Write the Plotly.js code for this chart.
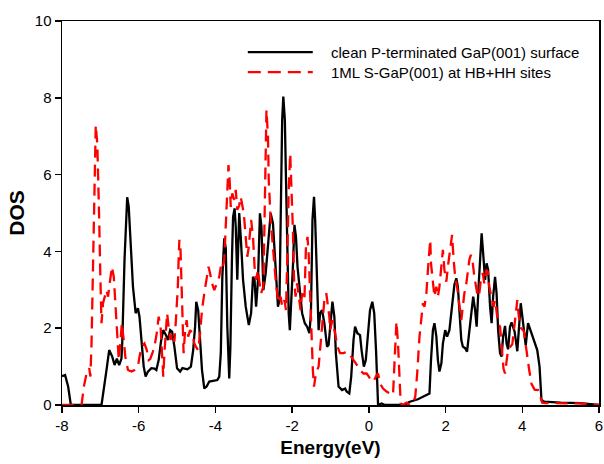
<!DOCTYPE html>
<html>
<head>
<meta charset="utf-8">
<script src="https://cdn.plot.ly/plotly-3.0.1.min.js"></script>
<style>html,body{margin:0;padding:0;background:#fff;}#chart{width:604px;height:464px;}</style>
</head>
<body>
<div id="chart"></div>
<script>
// Series names
const seriesNames = ["clean P-terminated GaP(001) surface", "1ML S-GaP(001) at HB+HH sites"];

// Clean P-terminated GaP(001) surface
const cleanEnergy = [-8.00,-7.92,-7.84,-7.77,-7.50,-7.20,-6.97,-6.84,-6.77,-6.69,-6.63,-6.57,-6.51,-6.45,-6.43,-6.37,-6.30,-6.26,-6.21,-6.15,-6.08,-6.02,-5.98,-5.93,-5.87,-5.82,-5.76,-5.67,-5.59,-5.54,-5.48,-5.42,-5.36,-5.29,-5.24,-5.18,-5.13,-5.07,-5.00,-4.92,-4.86,-4.73,-4.64,-4.58,-4.53,-4.50,-4.45,-4.40,-4.35,-4.29,-4.23,-4.16,-4.03,-3.95,-3.90,-3.86,-3.82,-3.77,-3.73,-3.69,-3.64,-3.61,-3.57,-3.54,-3.50,-3.47,-3.43,-3.38,-3.34,-3.28,-3.21,-3.13,-3.07,-3.02,-2.98,-2.94,-2.89,-2.84,-2.80,-2.75,-2.69,-2.63,-2.56,-2.50,-2.43,-2.37,-2.33,-2.29,-2.26,-2.23,-2.19,-2.16,-2.12,-2.09,-2.06,-2.03,-1.98,-1.94,-1.90,-1.86,-1.80,-1.74,-1.67,-1.61,-1.55,-1.51,-1.47,-1.43,-1.40,-1.35,-1.31,-1.27,-1.22,-1.16,-1.09,-1.05,-1.01,-0.95,-0.90,-0.86,-0.79,-0.70,-0.62,-0.58,-0.51,-0.46,-0.40,-0.36,-0.30,-0.23,-0.19,-0.13,-0.08,-0.03,0.03,0.09,0.14,0.19,0.22,0.24,0.33,0.42,0.95,1.05,1.28,1.58,1.62,1.67,1.71,1.76,1.80,1.84,1.89,1.93,1.99,2.04,2.10,2.16,2.23,2.28,2.32,2.36,2.41,2.45,2.51,2.56,2.62,2.68,2.72,2.77,2.81,2.86,2.91,2.94,2.98,3.03,3.07,3.11,3.16,3.20,3.24,3.29,3.33,3.37,3.42,3.46,3.50,3.55,3.59,3.63,3.68,3.72,3.80,3.87,3.96,4.04,4.09,4.15,4.26,4.39,4.45,4.50,4.57,5.00,5.50,5.95,6.00];
const cleanDOS = [0.75,0.78,0.48,0.00,0.00,0.00,0.00,0.91,1.43,1.26,1.04,1.21,1.04,1.21,1.60,3.78,5.41,5.16,4.21,3.08,2.39,2.52,2.30,1.60,1.00,0.74,0.87,0.96,0.95,0.91,1.17,1.65,1.95,1.82,1.69,1.95,1.91,1.52,0.96,0.87,0.96,0.93,1.00,1.43,2.04,2.69,2.47,1.69,0.91,0.43,0.48,0.61,0.63,0.65,0.74,1.35,3.34,4.34,4.08,2.04,0.69,1.52,3.78,4.90,5.12,4.64,3.26,5.00,4.38,3.26,2.56,2.08,2.39,3.34,3.26,2.56,3.26,4.99,4.64,2.99,3.43,4.12,4.99,4.73,3.60,2.56,2.73,5.42,7.42,8.03,7.42,5.86,3.69,2.39,1.95,2.47,3.60,4.69,4.38,3.60,2.91,2.39,2.13,2.04,1.87,2.39,4.82,5.42,4.82,3.26,1.95,2.39,2.47,2.13,1.52,1.56,2.10,2.69,2.30,1.35,0.48,0.39,0.43,0.35,0.30,0.74,1.69,2.04,1.87,1.82,1.43,1.00,1.17,1.78,2.47,2.69,2.39,1.35,0.48,0.00,0.04,0.00,0.00,0.08,0.15,0.30,1.17,1.95,2.13,1.78,1.17,0.87,1.08,1.60,1.95,1.78,1.95,2.47,3.13,3.30,3.08,2.47,1.69,1.52,1.48,1.39,1.95,2.56,2.82,2.47,2.04,3.08,4.04,4.47,3.95,3.26,3.69,3.52,2.56,2.13,2.82,3.34,2.91,1.95,1.35,1.26,1.78,2.06,1.60,1.45,2.04,2.15,1.91,1.40,2.65,2.00,1.55,2.13,1.80,1.43,1.00,0.13,0.09,0.06,0.05,0.02,0.00];

// 1ML S-GaP(001) at HB+HH sites
const sulfurEnergy = [-8.00,-7.49,-7.43,-7.36,-7.29,-7.26,-7.23,-7.20,-7.17,-7.14,-7.12,-7.08,-7.06,-7.03,-7.00,-6.97,-6.93,-6.88,-6.84,-6.80,-6.76,-6.70,-6.65,-6.60,-6.57,-6.52,-6.48,-6.44,-6.39,-6.35,-6.28,-6.19,-6.11,-6.02,-5.98,-5.92,-5.85,-5.79,-5.74,-5.70,-5.63,-5.59,-5.53,-5.48,-5.43,-5.39,-5.36,-5.33,-5.29,-5.26,-5.22,-5.17,-5.13,-5.07,-5.03,-4.98,-4.96,-4.94,-4.91,-4.88,-4.85,-4.83,-4.79,-4.75,-4.71,-4.66,-4.60,-4.55,-4.51,-4.45,-4.40,-4.35,-4.29,-4.23,-4.18,-4.14,-4.09,-4.03,-3.97,-3.90,-3.86,-3.82,-3.77,-3.73,-3.69,-3.66,-3.63,-3.60,-3.56,-3.51,-3.47,-3.43,-3.38,-3.34,-3.30,-3.26,-3.21,-3.17,-3.13,-3.07,-3.02,-2.98,-2.94,-2.89,-2.85,-2.81,-2.75,-2.72,-2.69,-2.67,-2.63,-2.61,-2.56,-2.52,-2.48,-2.43,-2.39,-2.35,-2.30,-2.26,-2.20,-2.16,-2.12,-2.09,-2.05,-2.02,-1.98,-1.95,-1.91,-1.87,-1.83,-1.78,-1.74,-1.68,-1.64,-1.60,-1.57,-1.53,-1.50,-1.46,-1.43,-1.38,-1.31,-1.27,-1.21,-1.16,-1.11,-1.07,-1.03,-1.01,-0.95,-0.88,-0.82,-0.75,-0.66,-0.58,-0.52,-0.46,-0.38,-0.31,-0.23,-0.14,-0.06,0.00,0.07,0.14,0.20,0.24,0.29,0.37,0.46,0.55,0.63,0.68,0.72,0.76,0.79,0.83,0.89,0.98,1.07,1.15,1.21,1.26,1.32,1.37,1.41,1.45,1.50,1.54,1.57,1.60,1.62,1.67,1.71,1.76,1.80,1.84,1.89,1.93,1.97,2.02,2.06,2.10,2.15,2.17,2.21,2.25,2.30,2.36,2.41,2.45,2.49,2.53,2.58,2.62,2.66,2.71,2.75,2.80,2.84,2.88,2.93,2.97,3.01,3.06,3.10,3.14,3.19,3.25,3.29,3.33,3.37,3.42,3.46,3.51,3.55,3.59,3.63,3.74,3.82,3.87,3.91,3.97,4.04,4.10,4.18,4.24,4.32,4.41,4.47,4.52,4.60,5.00,5.50,6.00];
const sulfurDOS = [0.00,0.00,0.48,0.82,0.96,0.74,1.60,3.34,5.51,6.64,7.29,6.81,5.51,4.82,3.34,2.13,2.65,2.82,2.99,2.82,3.17,3.60,3.34,2.47,1.78,1.17,1.60,2.13,1.69,1.26,0.91,0.87,0.91,1.00,1.26,1.52,1.60,1.43,1.17,1.20,1.39,1.52,1.87,2.30,2.04,1.17,0.74,1.35,2.04,2.39,2.04,1.69,1.87,1.65,2.21,3.08,3.78,4.30,4.04,3.08,2.30,1.35,1.95,2.21,1.78,1.95,1.87,1.60,1.52,1.43,1.87,2.47,2.91,3.26,3.60,3.43,3.17,2.99,3.13,3.34,3.60,3.52,3.78,4.64,5.69,6.25,5.86,5.16,5.51,5.34,5.60,5.08,5.20,5.42,5.20,4.99,4.38,3.86,4.12,4.82,4.38,3.60,3.26,3.52,3.17,2.91,3.08,4.99,6.73,7.68,6.99,5.86,4.82,4.30,3.78,3.26,2.91,2.65,2.82,2.56,2.73,2.47,4.12,5.60,6.55,5.86,4.56,3.26,2.82,3.17,2.91,2.47,2.91,2.73,4.12,4.38,3.95,2.91,1.69,0.91,0.48,0.82,1.00,1.52,2.21,2.73,2.91,2.56,2.30,1.95,2.21,1.87,1.52,1.35,1.35,1.39,1.35,1.26,1.15,1.04,0.91,0.82,0.82,0.74,0.61,0.65,0.78,0.82,0.56,0.43,0.35,0.30,0.26,1.35,2.17,1.60,0.74,0.04,0.00,0.06,0.00,0.03,0.22,0.82,1.78,2.30,2.65,2.56,2.91,3.52,4.04,4.30,3.69,3.08,2.82,3.08,2.82,3.08,3.69,4.04,3.52,3.21,3.60,3.95,4.30,4.43,3.78,3.34,3.08,2.56,2.21,2.56,2.91,3.08,3.43,3.78,3.91,3.69,3.34,2.99,2.82,2.91,3.34,3.43,3.17,3.52,3.47,3.08,2.82,2.56,2.73,2.39,2.13,2.04,1.60,0.95,0.82,1.10,1.45,1.58,2.40,2.73,2.30,2.00,1.93,1.43,0.91,0.55,0.40,0.39,0.22,0.06,0.05,0.04,0.04,0.00];

// Axis tick labels
const xTicks = [-8, -6, -4, -2, 0, 2, 4, 6];
const yTicks = [0, 2, 4, 6, 8, 10];

const FONT = "Liberation Sans, Arial, sans-serif";

const traces = [
  {x: cleanEnergy, y: cleanDOS, name: seriesNames[0], type: "scatter", mode: "lines",
   line: {color: "#000000", width: 2.3}, showlegend: false},
  {x: sulfurEnergy, y: sulfurDOS, name: seriesNames[1], type: "scatter", mode: "lines",
   line: {color: "#ff0000", width: 2.3, dash: "12px,7px"}, showlegend: false}
];

// legend drawn in paper coordinates
const legY = [0.919, 0.867];
const shapes = [
  {type: "line", xref: "paper", yref: "paper", x0: 0.346, x1: 0.467, y0: legY[0], y1: legY[0],
   line: {color: "#000000", width: 2.3}},
  {type: "line", xref: "paper", yref: "paper", x0: 0.346, x1: 0.467, y0: legY[1], y1: legY[1],
   line: {color: "#ff0000", width: 2.3, dash: "13px,7px"}}
];
const annotations = seriesNames.map((t, i) => ({
  text: t, xref: "paper", yref: "paper", x: 0.497, y: legY[i], xanchor: "left", yanchor: "middle",
  showarrow: false, font: {family: FONT, size: 15, color: "#000"}
}));

const layout = {
  width: 604, height: 464,
  margin: {l: 62, r: 5, t: 21, b: 59},
  paper_bgcolor: "#ffffff", plot_bgcolor: "#ffffff",
  showlegend: false,
  xaxis: {
    range: [-8, 6], tickvals: xTicks, ticktext: xTicks.map(String),
    ticks: "outside", ticklen: 6, tickwidth: 1.5, tickcolor: "#000",
    ticklabeloverflow: "allow",
    showline: true, linecolor: "#000", linewidth: 1.5, mirror: true,
    showgrid: false, zeroline: false,
    tickfont: {family: FONT, size: 15, color: "#000"},
    title: {text: "<b>Energy(eV)</b>", font: {family: FONT, size: 19, color: "#000"}, standoff: 8}
  },
  yaxis: {
    range: [0, 10], tickvals: yTicks, ticktext: yTicks.map(String),
    ticks: "outside", ticklen: 6, tickwidth: 1.5, tickcolor: "#000",
    showline: true, linecolor: "#000", linewidth: 1.5, mirror: true,
    showgrid: false, zeroline: false,
    tickfont: {family: FONT, size: 15, color: "#000"},
    title: {text: "<b>DOS</b>", font: {family: FONT, size: 21, color: "#000"}, standoff: 4}
  },
  shapes: shapes,
  annotations: annotations
};

Plotly.newPlot("chart", traces, layout, {staticPlot: true, displayModeBar: false});
</script>
</body>
</html>
